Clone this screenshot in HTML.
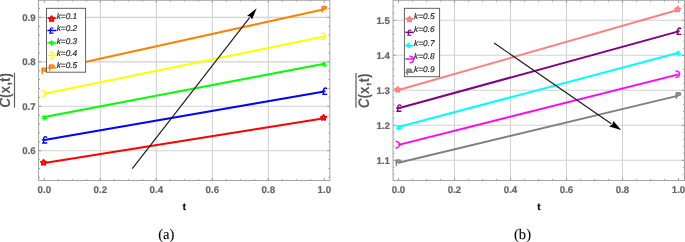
<!DOCTYPE html>
<html><head><meta charset="utf-8"><style>
html,body{margin:0;padding:0;background:#fff;width:685px;height:242px;overflow:hidden;}
svg{display:block;font-family:"Liberation Sans",sans-serif;will-change:transform;text-rendering:geometricPrecision;}
</style></head><body>
<svg width="685" height="242" viewBox="0 0 685 242">
<rect width="685" height="242" fill="#fff"/>
<g stroke="#d2d2d2" stroke-width="1.1"><line x1="100.3" y1="0.3" x2="100.3" y2="180.5"/><line x1="156.3" y1="0.3" x2="156.3" y2="180.5"/><line x1="212.3" y1="0.3" x2="212.3" y2="180.5"/><line x1="268.3" y1="0.3" x2="268.3" y2="180.5"/><line x1="38.55" y1="150.69" x2="329.85" y2="150.69"/><line x1="38.55" y1="106.26" x2="329.85" y2="106.26"/><line x1="38.55" y1="61.83" x2="329.85" y2="61.83"/><line x1="38.55" y1="17.4" x2="329.85" y2="17.4"/></g>
<g stroke="#8c8c8c" stroke-width="0.9"><line x1="44.3" y1="180.5" x2="44.3" y2="177.9"/><line x1="44.3" y1="0.3" x2="44.3" y2="2.9"/><line x1="58.3" y1="180.5" x2="58.3" y2="179.1"/><line x1="58.3" y1="0.3" x2="58.3" y2="1.7"/><line x1="72.3" y1="180.5" x2="72.3" y2="179.1"/><line x1="72.3" y1="0.3" x2="72.3" y2="1.7"/><line x1="86.3" y1="180.5" x2="86.3" y2="179.1"/><line x1="86.3" y1="0.3" x2="86.3" y2="1.7"/><line x1="100.3" y1="180.5" x2="100.3" y2="177.9"/><line x1="100.3" y1="0.3" x2="100.3" y2="2.9"/><line x1="114.3" y1="180.5" x2="114.3" y2="179.1"/><line x1="114.3" y1="0.3" x2="114.3" y2="1.7"/><line x1="128.3" y1="180.5" x2="128.3" y2="179.1"/><line x1="128.3" y1="0.3" x2="128.3" y2="1.7"/><line x1="142.3" y1="180.5" x2="142.3" y2="179.1"/><line x1="142.3" y1="0.3" x2="142.3" y2="1.7"/><line x1="156.3" y1="180.5" x2="156.3" y2="177.9"/><line x1="156.3" y1="0.3" x2="156.3" y2="2.9"/><line x1="170.3" y1="180.5" x2="170.3" y2="179.1"/><line x1="170.3" y1="0.3" x2="170.3" y2="1.7"/><line x1="184.3" y1="180.5" x2="184.3" y2="179.1"/><line x1="184.3" y1="0.3" x2="184.3" y2="1.7"/><line x1="198.3" y1="180.5" x2="198.3" y2="179.1"/><line x1="198.3" y1="0.3" x2="198.3" y2="1.7"/><line x1="212.3" y1="180.5" x2="212.3" y2="177.9"/><line x1="212.3" y1="0.3" x2="212.3" y2="2.9"/><line x1="226.3" y1="180.5" x2="226.3" y2="179.1"/><line x1="226.3" y1="0.3" x2="226.3" y2="1.7"/><line x1="240.3" y1="180.5" x2="240.3" y2="179.1"/><line x1="240.3" y1="0.3" x2="240.3" y2="1.7"/><line x1="254.3" y1="180.5" x2="254.3" y2="179.1"/><line x1="254.3" y1="0.3" x2="254.3" y2="1.7"/><line x1="268.3" y1="180.5" x2="268.3" y2="177.9"/><line x1="268.3" y1="0.3" x2="268.3" y2="2.9"/><line x1="282.3" y1="180.5" x2="282.3" y2="179.1"/><line x1="282.3" y1="0.3" x2="282.3" y2="1.7"/><line x1="296.3" y1="180.5" x2="296.3" y2="179.1"/><line x1="296.3" y1="0.3" x2="296.3" y2="1.7"/><line x1="310.3" y1="180.5" x2="310.3" y2="179.1"/><line x1="310.3" y1="0.3" x2="310.3" y2="1.7"/><line x1="324.3" y1="180.5" x2="324.3" y2="177.9"/><line x1="324.3" y1="0.3" x2="324.3" y2="2.9"/><line x1="38.55" y1="177.35" x2="39.95" y2="177.35"/><line x1="329.85" y1="177.35" x2="328.45" y2="177.35"/><line x1="38.55" y1="168.46" x2="39.95" y2="168.46"/><line x1="329.85" y1="168.46" x2="328.45" y2="168.46"/><line x1="38.55" y1="159.58" x2="39.95" y2="159.58"/><line x1="329.85" y1="159.58" x2="328.45" y2="159.58"/><line x1="38.55" y1="150.69" x2="41.15" y2="150.69"/><line x1="329.85" y1="150.69" x2="327.25" y2="150.69"/><line x1="38.55" y1="141.8" x2="39.95" y2="141.8"/><line x1="329.85" y1="141.8" x2="328.45" y2="141.8"/><line x1="38.55" y1="132.92" x2="39.95" y2="132.92"/><line x1="329.85" y1="132.92" x2="328.45" y2="132.92"/><line x1="38.55" y1="124.03" x2="39.95" y2="124.03"/><line x1="329.85" y1="124.03" x2="328.45" y2="124.03"/><line x1="38.55" y1="115.15" x2="39.95" y2="115.15"/><line x1="329.85" y1="115.15" x2="328.45" y2="115.15"/><line x1="38.55" y1="106.26" x2="41.15" y2="106.26"/><line x1="329.85" y1="106.26" x2="327.25" y2="106.26"/><line x1="38.55" y1="97.37" x2="39.95" y2="97.37"/><line x1="329.85" y1="97.37" x2="328.45" y2="97.37"/><line x1="38.55" y1="88.49" x2="39.95" y2="88.49"/><line x1="329.85" y1="88.49" x2="328.45" y2="88.49"/><line x1="38.55" y1="79.6" x2="39.95" y2="79.6"/><line x1="329.85" y1="79.6" x2="328.45" y2="79.6"/><line x1="38.55" y1="70.72" x2="39.95" y2="70.72"/><line x1="329.85" y1="70.72" x2="328.45" y2="70.72"/><line x1="38.55" y1="61.83" x2="41.15" y2="61.83"/><line x1="329.85" y1="61.83" x2="327.25" y2="61.83"/><line x1="38.55" y1="52.94" x2="39.95" y2="52.94"/><line x1="329.85" y1="52.94" x2="328.45" y2="52.94"/><line x1="38.55" y1="44.06" x2="39.95" y2="44.06"/><line x1="329.85" y1="44.06" x2="328.45" y2="44.06"/><line x1="38.55" y1="35.17" x2="39.95" y2="35.17"/><line x1="329.85" y1="35.17" x2="328.45" y2="35.17"/><line x1="38.55" y1="26.29" x2="39.95" y2="26.29"/><line x1="329.85" y1="26.29" x2="328.45" y2="26.29"/><line x1="38.55" y1="17.4" x2="41.15" y2="17.4"/><line x1="329.85" y1="17.4" x2="327.25" y2="17.4"/><line x1="38.55" y1="8.51" x2="39.95" y2="8.51"/><line x1="329.85" y1="8.51" x2="328.45" y2="8.51"/></g>
<rect x="38.55" y="0.3" width="291.3" height="180.2" fill="none" stroke="#a3a3a3" stroke-width="1.0"/>
<line x1="44.3" y1="163.05" x2="324.3" y2="118.15" stroke="#ff0000" stroke-width="2.0"/>
<line x1="44.3" y1="140.05" x2="324.3" y2="91.4" stroke="#0000ff" stroke-width="2.0"/>
<line x1="44.3" y1="117.1" x2="324.3" y2="63.7" stroke="#00ff00" stroke-width="2.0"/>
<line x1="44.3" y1="93.7" x2="324.3" y2="36.5" stroke="#ffff00" stroke-width="2.0"/>
<line x1="44.3" y1="70.9" x2="324.3" y2="9.2" stroke="#ff8000" stroke-width="2.0"/>
<g transform="translate(44.3,163.05) scale(1.0)"><polygon points="-0.75,-3.45 0.31,-1.91 2.1,-1.38 0.96,0.11 1.01,1.98 -0.75,1.35 -2.51,1.98 -2.46,0.11 -3.6,-1.38 -1.81,-1.91" fill="#ff0000" stroke="#ff0000" stroke-width="1.45" stroke-linejoin="round"/><circle cx="-0.75" cy="-0.35" r="0.5" fill="#fff" opacity="0.6"/></g>
<g transform="translate(324.3,118.15) scale(1.0)"><polygon points="-0.75,-3.45 0.31,-1.91 2.1,-1.38 0.96,0.11 1.01,1.98 -0.75,1.35 -2.51,1.98 -2.46,0.11 -3.6,-1.38 -1.81,-1.91" fill="#ff0000" stroke="#ff0000" stroke-width="1.45" stroke-linejoin="round"/><circle cx="-0.75" cy="-0.35" r="0.5" fill="#fff" opacity="0.6"/></g>
<g transform="translate(44.3,140.05) scale(1.15)"><path d="M-0.6 2.6V-1.0Q-0.6 -3.0 1.0 -3.0Q2.0 -3.0 2.2 -2.0M-2.2 -0.2H1.2M-1.9 2.6H2.5" fill="none" stroke="#0000ff" stroke-width="1.2"/></g>
<g transform="translate(324.3,91.4) scale(1.15)"><path d="M-0.6 2.6V-1.0Q-0.6 -3.0 1.0 -3.0Q2.0 -3.0 2.2 -2.0M-2.2 -0.2H1.2M-1.9 2.6H2.5" fill="none" stroke="#0000ff" stroke-width="1.2"/></g>
<g transform="translate(44.3,117.1) scale(1.0)"><path d="M-0.1 -1.9V3.6M-2.3 -0.6H1.6M-2.3 1.5H2.7" fill="none" stroke="#00ff00" stroke-width="1.3"/></g>
<g transform="translate(324.3,63.7) scale(1.0)"><path d="M-0.1 -1.9V3.6M-2.3 -0.6H1.6M-2.3 1.5H2.7" fill="none" stroke="#00ff00" stroke-width="1.3"/></g>
<g transform="translate(44.3,93.7) scale(1.0)"><path d="M-2.5 -3.6Q0.9 -2.9 1.2 -0.4Q0.9 2.4 -2.5 3.1" fill="none" stroke="#ffff00" stroke-width="1.35" stroke-linecap="round"/></g>
<g transform="translate(324.3,36.5) scale(1.0)"><path d="M-2.5 -3.6Q0.9 -2.9 1.2 -0.4Q0.9 2.4 -2.5 3.1" fill="none" stroke="#ffff00" stroke-width="1.35" stroke-linecap="round"/></g>
<g transform="translate(44.3,70.9) scale(1.0)"><path d="M-3.0 0.5L-3.0 -2.3Q-3.0 -3.5 -1.6 -3.5L0.7 -3.5Q2.9 -3.5 2.9 -1.5Q2.9 0.5 0.7 0.5Z" fill="#ff8000"/><ellipse cx="-0.2" cy="-1.5" rx="0.9" ry="0.6" fill="#fff" opacity="0.45"/><path d="M-2.1 0V3.4" stroke="#ff8000" stroke-width="1.4"/></g>
<g transform="translate(324.3,9.2) scale(1.0)"><path d="M-3.0 0.5L-3.0 -2.3Q-3.0 -3.5 -1.6 -3.5L0.7 -3.5Q2.9 -3.5 2.9 -1.5Q2.9 0.5 0.7 0.5Z" fill="#ff8000"/><ellipse cx="-0.2" cy="-1.5" rx="0.9" ry="0.6" fill="#fff" opacity="0.45"/><path d="M-2.1 0V3.4" stroke="#ff8000" stroke-width="1.4"/></g>
<line x1="132.3" y1="168.6" x2="249.6" y2="17.6" stroke="#1a1a1a" stroke-width="1.15"/>
<path d="M256.7 8.2L247.2 15.7L250.34 16.65L252 19.5Z" fill="#000"/>
<rect x="46.5" y="8.3" width="39.1" height="63.9" fill="#fff" stroke="#5a5a5a" stroke-width="0.95"/>
<line x1="47.4" y1="18.05" x2="56.4" y2="18.05" stroke="#ff0000" stroke-width="1.5"/>
<g transform="translate(52.35,19.4) scale(1.0)"><polygon points="-0.75,-3.45 0.31,-1.91 2.1,-1.38 0.96,0.11 1.01,1.98 -0.75,1.35 -2.51,1.98 -2.46,0.11 -3.6,-1.38 -1.81,-1.91" fill="#ff0000" stroke="#ff0000" stroke-width="1.45" stroke-linejoin="round"/><circle cx="-0.75" cy="-0.35" r="0.5" fill="#fff" opacity="0.6"/></g>
<text transform="translate(56.7,18.6) scale(1.0,1)" font-family="Liberation Sans" font-style="italic" font-size="8.3" fill="#1a1a1a" stroke="#1a1a1a" stroke-width="0.16">k=0.1</text>
<line x1="47.4" y1="30.5" x2="56.4" y2="30.5" stroke="#0000ff" stroke-width="1.5"/>
<g transform="translate(51,30.6) scale(0.95)"><path d="M-0.6 2.6V-1.0Q-0.6 -3.0 1.0 -3.0Q2.0 -3.0 2.2 -2.0M-2.2 -0.2H1.2M-1.9 2.6H2.5" fill="none" stroke="#0000ff" stroke-width="1.2"/></g>
<text transform="translate(56.7,31.05) scale(1.0,1)" font-family="Liberation Sans" font-style="italic" font-size="8.3" fill="#1a1a1a" stroke="#1a1a1a" stroke-width="0.16">k=0.2</text>
<line x1="47.4" y1="42.95" x2="56.4" y2="42.95" stroke="#00ff00" stroke-width="1.5"/>
<g transform="translate(51.7,42.35) scale(1.0)"><path d="M-0.1 -1.9V3.6M-2.3 -0.6H1.6M-2.3 1.5H2.7" fill="none" stroke="#00ff00" stroke-width="1.3"/></g>
<text transform="translate(56.7,43.5) scale(1.0,1)" font-family="Liberation Sans" font-style="italic" font-size="8.3" fill="#1a1a1a" stroke="#1a1a1a" stroke-width="0.16">k=0.3</text>
<line x1="47.4" y1="55.4" x2="56.4" y2="55.4" stroke="#ffff00" stroke-width="1.5"/>
<g transform="translate(52.9,55.6) scale(1.0)"><path d="M-2.5 -3.6Q0.9 -2.9 1.2 -0.4Q0.9 2.4 -2.5 3.1" fill="none" stroke="#ffff00" stroke-width="1.35" stroke-linecap="round"/></g>
<text transform="translate(56.7,55.95) scale(1.0,1)" font-family="Liberation Sans" font-style="italic" font-size="8.3" fill="#1a1a1a" stroke="#1a1a1a" stroke-width="0.16">k=0.4</text>
<line x1="47.4" y1="67.85" x2="56.4" y2="67.85" stroke="#ff8000" stroke-width="1.5"/>
<g transform="translate(51.8,67.7) scale(1.0)"><path d="M-3.0 0.5L-3.0 -2.3Q-3.0 -3.5 -1.6 -3.5L0.7 -3.5Q2.9 -3.5 2.9 -1.5Q2.9 0.5 0.7 0.5Z" fill="#ff8000"/><ellipse cx="-0.2" cy="-1.5" rx="0.9" ry="0.6" fill="#fff" opacity="0.45"/><path d="M-2.1 0V3.4" stroke="#ff8000" stroke-width="1.4"/></g>
<text transform="translate(56.7,68.4) scale(1.0,1)" font-family="Liberation Sans" font-style="italic" font-size="8.3" fill="#1a1a1a" stroke="#1a1a1a" stroke-width="0.16">k=0.5</text>
<text x="44.3" y="192.6" text-anchor="middle" font-family="Liberation Sans" font-weight="bold" font-size="9.7" fill="#666666" stroke="#666666" stroke-width="0.2">0.0</text>
<text x="100.3" y="192.6" text-anchor="middle" font-family="Liberation Sans" font-weight="bold" font-size="9.7" fill="#666666" stroke="#666666" stroke-width="0.2">0.2</text>
<text x="156.3" y="192.6" text-anchor="middle" font-family="Liberation Sans" font-weight="bold" font-size="9.7" fill="#666666" stroke="#666666" stroke-width="0.2">0.4</text>
<text x="212.3" y="192.6" text-anchor="middle" font-family="Liberation Sans" font-weight="bold" font-size="9.7" fill="#666666" stroke="#666666" stroke-width="0.2">0.6</text>
<text x="268.3" y="192.6" text-anchor="middle" font-family="Liberation Sans" font-weight="bold" font-size="9.7" fill="#666666" stroke="#666666" stroke-width="0.2">0.8</text>
<text x="324.3" y="192.6" text-anchor="middle" font-family="Liberation Sans" font-weight="bold" font-size="9.7" fill="#666666" stroke="#666666" stroke-width="0.2">1.0</text>
<text x="35.6" y="154.34" text-anchor="end" font-family="Liberation Sans" font-weight="bold" font-size="9.7" fill="#666666" stroke="#666666" stroke-width="0.2">0.6</text>
<text x="35.6" y="109.91" text-anchor="end" font-family="Liberation Sans" font-weight="bold" font-size="9.7" fill="#666666" stroke="#666666" stroke-width="0.2">0.7</text>
<text x="35.6" y="65.48" text-anchor="end" font-family="Liberation Sans" font-weight="bold" font-size="9.7" fill="#666666" stroke="#666666" stroke-width="0.2">0.8</text>
<text x="35.6" y="21.05" text-anchor="end" font-family="Liberation Sans" font-weight="bold" font-size="9.7" fill="#666666" stroke="#666666" stroke-width="0.2">0.9</text>
<g stroke="#d2d2d2" stroke-width="1.1"><line x1="454.5" y1="0.3" x2="454.5" y2="180.5"/><line x1="510.5" y1="0.3" x2="510.5" y2="180.5"/><line x1="566.5" y1="0.3" x2="566.5" y2="180.5"/><line x1="622.5" y1="0.3" x2="622.5" y2="180.5"/><line x1="393.05" y1="160.3" x2="684.5" y2="160.3"/><line x1="393.05" y1="125.3" x2="684.5" y2="125.3"/><line x1="393.05" y1="90.3" x2="684.5" y2="90.3"/><line x1="393.05" y1="55.3" x2="684.5" y2="55.3"/><line x1="393.05" y1="20.3" x2="684.5" y2="20.3"/></g>
<g stroke="#8c8c8c" stroke-width="0.9"><line x1="398.5" y1="180.5" x2="398.5" y2="177.9"/><line x1="398.5" y1="0.3" x2="398.5" y2="2.9"/><line x1="412.5" y1="180.5" x2="412.5" y2="179.1"/><line x1="412.5" y1="0.3" x2="412.5" y2="1.7"/><line x1="426.5" y1="180.5" x2="426.5" y2="179.1"/><line x1="426.5" y1="0.3" x2="426.5" y2="1.7"/><line x1="440.5" y1="180.5" x2="440.5" y2="179.1"/><line x1="440.5" y1="0.3" x2="440.5" y2="1.7"/><line x1="454.5" y1="180.5" x2="454.5" y2="177.9"/><line x1="454.5" y1="0.3" x2="454.5" y2="2.9"/><line x1="468.5" y1="180.5" x2="468.5" y2="179.1"/><line x1="468.5" y1="0.3" x2="468.5" y2="1.7"/><line x1="482.5" y1="180.5" x2="482.5" y2="179.1"/><line x1="482.5" y1="0.3" x2="482.5" y2="1.7"/><line x1="496.5" y1="180.5" x2="496.5" y2="179.1"/><line x1="496.5" y1="0.3" x2="496.5" y2="1.7"/><line x1="510.5" y1="180.5" x2="510.5" y2="177.9"/><line x1="510.5" y1="0.3" x2="510.5" y2="2.9"/><line x1="524.5" y1="180.5" x2="524.5" y2="179.1"/><line x1="524.5" y1="0.3" x2="524.5" y2="1.7"/><line x1="538.5" y1="180.5" x2="538.5" y2="179.1"/><line x1="538.5" y1="0.3" x2="538.5" y2="1.7"/><line x1="552.5" y1="180.5" x2="552.5" y2="179.1"/><line x1="552.5" y1="0.3" x2="552.5" y2="1.7"/><line x1="566.5" y1="180.5" x2="566.5" y2="177.9"/><line x1="566.5" y1="0.3" x2="566.5" y2="2.9"/><line x1="580.5" y1="180.5" x2="580.5" y2="179.1"/><line x1="580.5" y1="0.3" x2="580.5" y2="1.7"/><line x1="594.5" y1="180.5" x2="594.5" y2="179.1"/><line x1="594.5" y1="0.3" x2="594.5" y2="1.7"/><line x1="608.5" y1="180.5" x2="608.5" y2="179.1"/><line x1="608.5" y1="0.3" x2="608.5" y2="1.7"/><line x1="622.5" y1="180.5" x2="622.5" y2="177.9"/><line x1="622.5" y1="0.3" x2="622.5" y2="2.9"/><line x1="636.5" y1="180.5" x2="636.5" y2="179.1"/><line x1="636.5" y1="0.3" x2="636.5" y2="1.7"/><line x1="650.5" y1="180.5" x2="650.5" y2="179.1"/><line x1="650.5" y1="0.3" x2="650.5" y2="1.7"/><line x1="664.5" y1="180.5" x2="664.5" y2="179.1"/><line x1="664.5" y1="0.3" x2="664.5" y2="1.7"/><line x1="678.5" y1="180.5" x2="678.5" y2="177.9"/><line x1="678.5" y1="0.3" x2="678.5" y2="2.9"/><line x1="393.05" y1="174.3" x2="394.45" y2="174.3"/><line x1="684.5" y1="174.3" x2="683.1" y2="174.3"/><line x1="393.05" y1="167.3" x2="394.45" y2="167.3"/><line x1="684.5" y1="167.3" x2="683.1" y2="167.3"/><line x1="393.05" y1="160.3" x2="395.65" y2="160.3"/><line x1="684.5" y1="160.3" x2="681.9" y2="160.3"/><line x1="393.05" y1="153.3" x2="394.45" y2="153.3"/><line x1="684.5" y1="153.3" x2="683.1" y2="153.3"/><line x1="393.05" y1="146.3" x2="394.45" y2="146.3"/><line x1="684.5" y1="146.3" x2="683.1" y2="146.3"/><line x1="393.05" y1="139.3" x2="394.45" y2="139.3"/><line x1="684.5" y1="139.3" x2="683.1" y2="139.3"/><line x1="393.05" y1="132.3" x2="394.45" y2="132.3"/><line x1="684.5" y1="132.3" x2="683.1" y2="132.3"/><line x1="393.05" y1="125.3" x2="395.65" y2="125.3"/><line x1="684.5" y1="125.3" x2="681.9" y2="125.3"/><line x1="393.05" y1="118.3" x2="394.45" y2="118.3"/><line x1="684.5" y1="118.3" x2="683.1" y2="118.3"/><line x1="393.05" y1="111.3" x2="394.45" y2="111.3"/><line x1="684.5" y1="111.3" x2="683.1" y2="111.3"/><line x1="393.05" y1="104.3" x2="394.45" y2="104.3"/><line x1="684.5" y1="104.3" x2="683.1" y2="104.3"/><line x1="393.05" y1="97.3" x2="394.45" y2="97.3"/><line x1="684.5" y1="97.3" x2="683.1" y2="97.3"/><line x1="393.05" y1="90.3" x2="395.65" y2="90.3"/><line x1="684.5" y1="90.3" x2="681.9" y2="90.3"/><line x1="393.05" y1="83.3" x2="394.45" y2="83.3"/><line x1="684.5" y1="83.3" x2="683.1" y2="83.3"/><line x1="393.05" y1="76.3" x2="394.45" y2="76.3"/><line x1="684.5" y1="76.3" x2="683.1" y2="76.3"/><line x1="393.05" y1="69.3" x2="394.45" y2="69.3"/><line x1="684.5" y1="69.3" x2="683.1" y2="69.3"/><line x1="393.05" y1="62.3" x2="394.45" y2="62.3"/><line x1="684.5" y1="62.3" x2="683.1" y2="62.3"/><line x1="393.05" y1="55.3" x2="395.65" y2="55.3"/><line x1="684.5" y1="55.3" x2="681.9" y2="55.3"/><line x1="393.05" y1="48.3" x2="394.45" y2="48.3"/><line x1="684.5" y1="48.3" x2="683.1" y2="48.3"/><line x1="393.05" y1="41.3" x2="394.45" y2="41.3"/><line x1="684.5" y1="41.3" x2="683.1" y2="41.3"/><line x1="393.05" y1="34.3" x2="394.45" y2="34.3"/><line x1="684.5" y1="34.3" x2="683.1" y2="34.3"/><line x1="393.05" y1="27.3" x2="394.45" y2="27.3"/><line x1="684.5" y1="27.3" x2="683.1" y2="27.3"/><line x1="393.05" y1="20.3" x2="395.65" y2="20.3"/><line x1="684.5" y1="20.3" x2="681.9" y2="20.3"/><line x1="393.05" y1="13.3" x2="394.45" y2="13.3"/><line x1="684.5" y1="13.3" x2="683.1" y2="13.3"/><line x1="393.05" y1="6.3" x2="394.45" y2="6.3"/><line x1="684.5" y1="6.3" x2="683.1" y2="6.3"/></g>
<rect x="393.05" y="0.3" width="291.45" height="180.2" fill="none" stroke="#a3a3a3" stroke-width="1.0"/>
<line x1="398.5" y1="90" x2="678.5" y2="9.8" stroke="#ff8080" stroke-width="2.0"/>
<line x1="398.5" y1="108.3" x2="678.5" y2="31.4" stroke="#800080" stroke-width="2.0"/>
<line x1="398.5" y1="127" x2="678.5" y2="52.7" stroke="#00ffff" stroke-width="2.0"/>
<line x1="398.5" y1="144.9" x2="678.5" y2="74.4" stroke="#ff00ff" stroke-width="2.0"/>
<line x1="398.5" y1="162.7" x2="678.5" y2="95.6" stroke="#808080" stroke-width="2.0"/>
<g transform="translate(398.5,90) scale(1.0)"><polygon points="-0.75,-3.45 0.31,-1.91 2.1,-1.38 0.96,0.11 1.01,1.98 -0.75,1.35 -2.51,1.98 -2.46,0.11 -3.6,-1.38 -1.81,-1.91" fill="#ff8080" stroke="#ff8080" stroke-width="1.45" stroke-linejoin="round"/><circle cx="-0.75" cy="-0.35" r="0.5" fill="#fff" opacity="0.6"/></g>
<g transform="translate(678.5,9.8) scale(1.0)"><polygon points="-0.75,-3.45 0.31,-1.91 2.1,-1.38 0.96,0.11 1.01,1.98 -0.75,1.35 -2.51,1.98 -2.46,0.11 -3.6,-1.38 -1.81,-1.91" fill="#ff8080" stroke="#ff8080" stroke-width="1.45" stroke-linejoin="round"/><circle cx="-0.75" cy="-0.35" r="0.5" fill="#fff" opacity="0.6"/></g>
<g transform="translate(398.5,108.3) scale(1.15)"><path d="M-0.6 2.6V-1.0Q-0.6 -3.0 1.0 -3.0Q2.0 -3.0 2.2 -2.0M-2.2 -0.2H1.2M-1.9 2.6H2.5" fill="none" stroke="#800080" stroke-width="1.2"/></g>
<g transform="translate(678.5,31.4) scale(1.15)"><path d="M-0.6 2.6V-1.0Q-0.6 -3.0 1.0 -3.0Q2.0 -3.0 2.2 -2.0M-2.2 -0.2H1.2M-1.9 2.6H2.5" fill="none" stroke="#800080" stroke-width="1.2"/></g>
<g transform="translate(398.5,127) scale(1.0)"><path d="M-0.1 -1.9V3.6M-2.3 -0.6H1.6M-2.3 1.5H2.7" fill="none" stroke="#00ffff" stroke-width="1.3"/></g>
<g transform="translate(678.5,52.7) scale(1.0)"><path d="M-0.1 -1.9V3.6M-2.3 -0.6H1.6M-2.3 1.5H2.7" fill="none" stroke="#00ffff" stroke-width="1.3"/></g>
<g transform="translate(398.5,144.9) scale(1.0)"><path d="M-2.5 -3.6Q0.9 -2.9 1.2 -0.4Q0.9 2.4 -2.5 3.1" fill="none" stroke="#ff00ff" stroke-width="1.35" stroke-linecap="round"/></g>
<g transform="translate(678.5,74.4) scale(1.0)"><path d="M-2.5 -3.6Q0.9 -2.9 1.2 -0.4Q0.9 2.4 -2.5 3.1" fill="none" stroke="#ff00ff" stroke-width="1.35" stroke-linecap="round"/></g>
<g transform="translate(398.5,162.7) scale(1.0)"><path d="M-3.0 0.5L-3.0 -2.3Q-3.0 -3.5 -1.6 -3.5L0.7 -3.5Q2.9 -3.5 2.9 -1.5Q2.9 0.5 0.7 0.5Z" fill="#808080"/><ellipse cx="-0.2" cy="-1.5" rx="0.9" ry="0.6" fill="#fff" opacity="0.45"/><path d="M-2.1 0V3.4" stroke="#808080" stroke-width="1.4"/></g>
<g transform="translate(678.5,95.6) scale(1.0)"><path d="M-3.0 0.5L-3.0 -2.3Q-3.0 -3.5 -1.6 -3.5L0.7 -3.5Q2.9 -3.5 2.9 -1.5Q2.9 0.5 0.7 0.5Z" fill="#808080"/><ellipse cx="-0.2" cy="-1.5" rx="0.9" ry="0.6" fill="#fff" opacity="0.45"/><path d="M-2.1 0V3.4" stroke="#808080" stroke-width="1.4"/></g>
<line x1="494.1" y1="43" x2="611.3" y2="123.8" stroke="#1a1a1a" stroke-width="1.15"/>
<path d="M621.2 130.1L613.4 121.1L612.29 124.48L609.2 126.5Z" fill="#000"/>
<rect x="404.4" y="8.3" width="35.2" height="68.4" fill="#fff" stroke="#5a5a5a" stroke-width="0.95"/>
<line x1="405.3" y1="19" x2="413.8" y2="19" stroke="#ff8080" stroke-width="1.5"/>
<g transform="translate(410.25,19.8) scale(1.0)"><polygon points="-0.75,-3.45 0.31,-1.91 2.1,-1.38 0.96,0.11 1.01,1.98 -0.75,1.35 -2.51,1.98 -2.46,0.11 -3.6,-1.38 -1.81,-1.91" fill="#ff8080" stroke="#ff8080" stroke-width="1.45" stroke-linejoin="round"/><circle cx="-0.75" cy="-0.35" r="0.5" fill="#fff" opacity="0.6"/></g>
<text transform="translate(414.1,18.9) scale(1.0,1)" font-family="Liberation Sans" font-style="italic" font-size="8.3" fill="#1a1a1a" stroke="#1a1a1a" stroke-width="0.16">k=0.5</text>
<line x1="405.3" y1="32.33" x2="413.8" y2="32.33" stroke="#800080" stroke-width="1.5"/>
<g transform="translate(409,32.8) scale(0.95)"><path d="M-0.6 2.6V-1.0Q-0.6 -3.0 1.0 -3.0Q2.0 -3.0 2.2 -2.0M-2.2 -0.2H1.2M-1.9 2.6H2.5" fill="none" stroke="#800080" stroke-width="1.2"/></g>
<text transform="translate(414.1,32.23) scale(1.0,1)" font-family="Liberation Sans" font-style="italic" font-size="8.3" fill="#1a1a1a" stroke="#1a1a1a" stroke-width="0.16">k=0.6</text>
<line x1="405.3" y1="45.66" x2="413.8" y2="45.66" stroke="#00ffff" stroke-width="1.5"/>
<g transform="translate(408.6,44.75) scale(1.0)"><path d="M-0.1 -1.9V3.6M-2.3 -0.6H1.6M-2.3 1.5H2.7" fill="none" stroke="#00ffff" stroke-width="1.3"/></g>
<text transform="translate(414.1,45.56) scale(1.0,1)" font-family="Liberation Sans" font-style="italic" font-size="8.3" fill="#1a1a1a" stroke="#1a1a1a" stroke-width="0.16">k=0.7</text>
<line x1="405.3" y1="58.99" x2="413.8" y2="58.99" stroke="#ff00ff" stroke-width="1.5"/>
<g transform="translate(412.5,59.8) scale(1.0)"><path d="M-2.5 -3.6Q0.9 -2.9 1.2 -0.4Q0.9 2.4 -2.5 3.1" fill="none" stroke="#ff00ff" stroke-width="1.35" stroke-linecap="round"/></g>
<text transform="translate(414.1,58.89) scale(1.0,1)" font-family="Liberation Sans" font-style="italic" font-size="8.3" fill="#1a1a1a" stroke="#1a1a1a" stroke-width="0.16">k=0.8</text>
<line x1="405.3" y1="72.32" x2="413.8" y2="72.32" stroke="#808080" stroke-width="1.5"/>
<g transform="translate(409.3,71.9) scale(1.0)"><path d="M-3.0 0.5L-3.0 -2.3Q-3.0 -3.5 -1.6 -3.5L0.7 -3.5Q2.9 -3.5 2.9 -1.5Q2.9 0.5 0.7 0.5Z" fill="#808080"/><ellipse cx="-0.2" cy="-1.5" rx="0.9" ry="0.6" fill="#fff" opacity="0.45"/><path d="M-2.1 0V3.4" stroke="#808080" stroke-width="1.4"/></g>
<text transform="translate(414.1,72.22) scale(1.0,1)" font-family="Liberation Sans" font-style="italic" font-size="8.3" fill="#1a1a1a" stroke="#1a1a1a" stroke-width="0.16">k=0.9</text>
<text x="398.5" y="192.6" text-anchor="middle" font-family="Liberation Sans" font-weight="bold" font-size="9.7" fill="#666666" stroke="#666666" stroke-width="0.2">0.0</text>
<text x="454.5" y="192.6" text-anchor="middle" font-family="Liberation Sans" font-weight="bold" font-size="9.7" fill="#666666" stroke="#666666" stroke-width="0.2">0.2</text>
<text x="510.5" y="192.6" text-anchor="middle" font-family="Liberation Sans" font-weight="bold" font-size="9.7" fill="#666666" stroke="#666666" stroke-width="0.2">0.4</text>
<text x="566.5" y="192.6" text-anchor="middle" font-family="Liberation Sans" font-weight="bold" font-size="9.7" fill="#666666" stroke="#666666" stroke-width="0.2">0.6</text>
<text x="622.5" y="192.6" text-anchor="middle" font-family="Liberation Sans" font-weight="bold" font-size="9.7" fill="#666666" stroke="#666666" stroke-width="0.2">0.8</text>
<text x="678.5" y="192.6" text-anchor="middle" font-family="Liberation Sans" font-weight="bold" font-size="9.7" fill="#666666" stroke="#666666" stroke-width="0.2">1.0</text>
<text x="389.9" y="163.95" text-anchor="end" font-family="Liberation Sans" font-weight="bold" font-size="9.7" fill="#666666" stroke="#666666" stroke-width="0.2">1.1</text>
<text x="389.9" y="128.95" text-anchor="end" font-family="Liberation Sans" font-weight="bold" font-size="9.7" fill="#666666" stroke="#666666" stroke-width="0.2">1.2</text>
<text x="389.9" y="93.95" text-anchor="end" font-family="Liberation Sans" font-weight="bold" font-size="9.7" fill="#666666" stroke="#666666" stroke-width="0.2">1.3</text>
<text x="389.9" y="58.95" text-anchor="end" font-family="Liberation Sans" font-weight="bold" font-size="9.7" fill="#666666" stroke="#666666" stroke-width="0.2">1.4</text>
<text x="389.9" y="23.95" text-anchor="end" font-family="Liberation Sans" font-weight="bold" font-size="9.7" fill="#666666" stroke="#666666" stroke-width="0.2">1.5</text>
<text x="0" y="0" transform="translate(10.4,107.8) rotate(-90) scale(0.89,1)" font-family="Liberation Sans" font-weight="bold" font-size="15.3" fill="#5a5a5a"><tspan font-style="italic">C</tspan>(x,t)</text>
<line x1="14.5" y1="72.7" x2="14.5" y2="107.7" stroke="#606060" stroke-width="1.2"/>
<text x="0" y="0" transform="translate(368.7,108.3) rotate(-90) scale(0.89,1)" font-family="Liberation Sans" font-weight="bold" font-size="15.3" fill="#5a5a5a"><tspan font-style="italic">C</tspan>(x,t)</text>
<line x1="356.0" y1="72.9" x2="356.0" y2="107.8" stroke="#707070" stroke-width="1.4"/>
<text x="184.3" y="209.6" text-anchor="middle" font-family="Liberation Sans" font-weight="bold" font-size="9.6" fill="#000" stroke="#000" stroke-width="0.3">t</text>
<text x="538.8" y="209.6" text-anchor="middle" font-family="Liberation Sans" font-weight="bold" font-size="9.6" fill="#000" stroke="#000" stroke-width="0.3">t</text>
<text x="158.2" y="238.7" font-family="Liberation Serif" font-size="14.6" fill="#000" stroke="#000" stroke-width="0.1">(a)</text>
<text x="514.0" y="238.7" font-family="Liberation Serif" font-size="14.6" fill="#000" stroke="#000" stroke-width="0.1">(b)</text>
</svg>
</body></html>
